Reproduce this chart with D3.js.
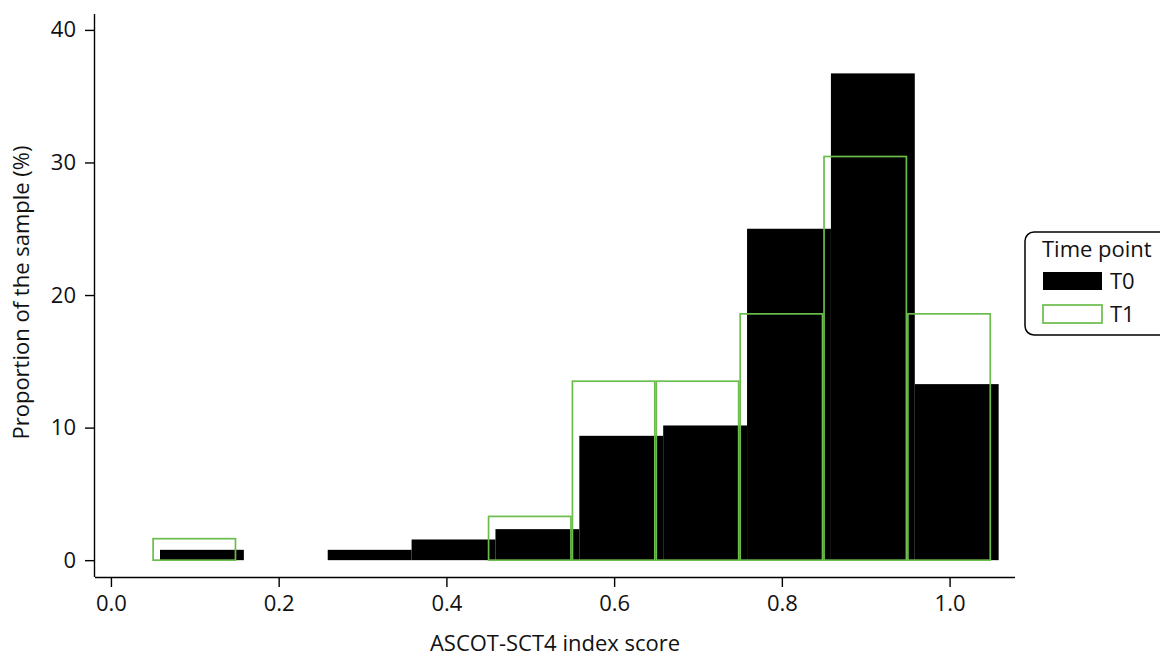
<!DOCTYPE html>
<html>
<head>
<meta charset="utf-8">
<script src="https://cdn.jsdelivr.net/npm/d3@7/dist/d3.min.js"></script>
<style>
  html, body { margin: 0; padding: 0; background: #fff; }
  svg { display: block; font-family: "Open Sans", "Noto Sans", sans-serif; }
</style>
</head>
<body>
<svg id="chart" width="1160" height="658"></svg>
<script>
// ---- data ----
const binCenters = [0.1, 0.2, 0.3, 0.4, 0.5, 0.6, 0.7, 0.8, 0.9, 1.0];
const t0Values = [0.78, 0, 0.78, 1.56, 2.34, 9.38, 10.16, 25.0, 36.72, 13.28];
const t1Values = [1.62, 0, 0, 0, 3.3, 13.5, 13.5, 18.58, 30.45, 18.58];
const xTicks = [0.0, 0.2, 0.4, 0.6, 0.8, 1.0];
const yTicks = [0, 10, 20, 30, 40];
const seriesNames = ["T0", "T1"];
const legendTitle = "Time point";
const xTitle = "ASCOT-SCT4 index score";
const yTitle = "Proportion of the sample (%)";

(function () {
// ---- layout ----
const svg = d3.select("#chart");
const pLeft = 95, pRight = 1015, pTop = 14, pBottom = 577;
const green = "#6bbd4b";
const fs = 22;

const x = d3.scaleLinear().domain([-0.019, 1.078]).range([pLeft, pRight]);
const y = d3.scaleLinear().domain([-1.27, 41.2]).range([pBottom, pTop]);

// T0 bars (filled black, shifted right)
const t0Data = binCenters.map((c, i) => ({c, v: t0Values[i]})).filter(d => d.v > 0);
svg.append("g").selectAll("rect").data(t0Data).join("rect")
  .attr("x", d => x(d.c - 0.0415))
  .attr("width", d => x(d.c + 0.0585) - x(d.c - 0.0415))
  .attr("y", d => y(d.v))
  .attr("height", d => y(0) - y(d.v))
  .attr("fill", "#000");

// T1 bars (green outline)
const t1Data = binCenters.map((c, i) => ({c, v: t1Values[i]})).filter(d => d.v > 0);
svg.append("g").selectAll("rect").data(t1Data).join("rect")
  .attr("x", d => x(d.c - 0.0497))
  .attr("width", d => x(d.c + 0.0485) - x(d.c - 0.0497))
  .attr("y", d => y(d.v))
  .attr("height", d => y(0) - y(d.v))
  .attr("fill", "none")
  .attr("stroke", green)
  .attr("stroke-width", 1.7);

// axes
const xAxis = d3.axisBottom(x).tickValues(xTicks).tickFormat(d3.format(".1f")).tickSize(10).tickPadding(8);
const gx = svg.append("g").attr("transform", `translate(0,${pBottom})`).call(xAxis);
gx.select(".domain").attr("d", `M${pLeft},0.5H${pRight}`).attr("stroke", "#000").attr("stroke-width", 1.4);
gx.selectAll(".tick line").attr("stroke", "#000").attr("stroke-width", 1.4);

const yAxis = d3.axisLeft(y).tickValues(yTicks).tickSize(10).tickPadding(9);
const gy = svg.append("g").attr("transform", `translate(${pLeft},0)`).call(yAxis);
gy.select(".domain").attr("d", `M-0.5,${pTop}V${pBottom}`).attr("stroke", "#000").attr("stroke-width", 1.4);
gy.selectAll(".tick line").attr("stroke", "#000").attr("stroke-width", 1.4);

[gx, gy].forEach(g => {
  g.attr("font-family", null).attr("font-size", null);
  g.selectAll(".tick text").attr("font-size", fs).attr("fill", "#111");
});

// axis titles
svg.append("text").attr("x", (pLeft + pRight) / 2).attr("y", 651)
  .attr("text-anchor", "middle").attr("font-size", fs).attr("fill", "#111").text(xTitle);
svg.append("text").attr("transform", `translate(29,${(pTop + pBottom) / 2 - 3}) rotate(-90)`)
  .attr("text-anchor", "middle").attr("font-size", fs).attr("fill", "#111").text(yTitle);

// legend
const lg = svg.append("g");
lg.append("rect").attr("x", 1025).attr("y", 232).attr("width", 170).attr("height", 103)
  .attr("rx", 9).attr("fill", "#fff").attr("stroke", "#000").attr("stroke-width", 1.5);
lg.append("text").attr("x", 1042).attr("y", 257).attr("font-size", fs).attr("fill", "#111").text(legendTitle);
seriesNames.forEach((name, i) => {
  const ky = 272 + i * 33;
  const r = lg.append("rect").attr("x", 1043).attr("y", ky).attr("width", 59).attr("height", 18);
  if (i === 0) r.attr("fill", "#000");
  else r.attr("fill", "none").attr("stroke", green).attr("stroke-width", 1.7);
  lg.append("text").attr("x", 1110).attr("y", ky + 17).attr("font-size", fs).attr("fill", "#111").text(name);
});
})();
</script>
</body>
</html>
